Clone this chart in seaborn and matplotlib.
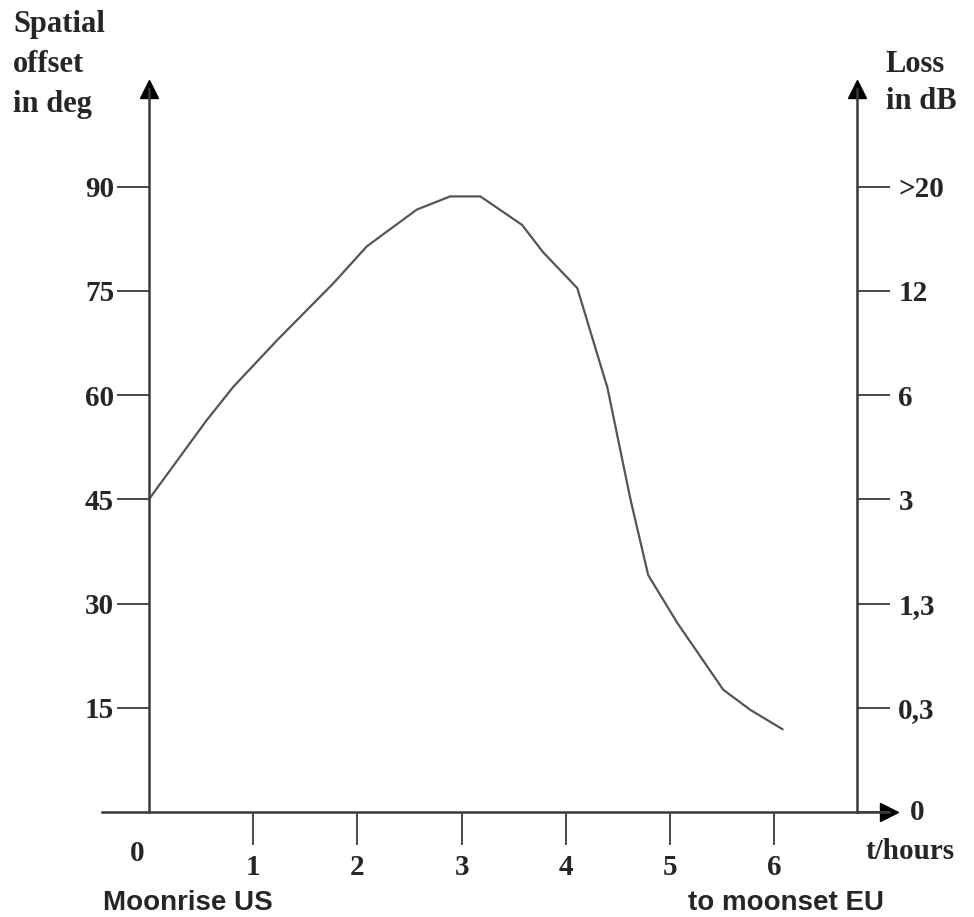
import numpy as np
import pandas as pd
import matplotlib
matplotlib.use("Agg")
import matplotlib.pyplot as plt
import matplotlib.transforms as mtransforms
import seaborn as sns

sns.set_style("white")
plt.rcParams['font.family'] = ['Liberation Serif', 'DejaVu Serif']

# Curve: spatial offset (deg) vs time (hours)
hours = [0, 0.55, 0.81, 1.23, 1.77, 2.09, 2.57, 2.89, 3.18,
         3.58, 3.78, 4.11, 4.40, 4.62, 4.79, 5.07, 5.51, 5.77, 6.08]
offset = [45, 56.3, 61.2, 67.9, 76.1, 81.4, 86.7, 88.6, 88.6,
          84.5, 80.6, 75.4, 61.0, 45.0, 34.1, 27.2, 17.6, 14.7, 11.9]

# Axis ticks
hour_ticks = [0, 1, 2, 3, 4, 5, 6]
deg_ticks = [15, 30, 45, 60, 75, 90]
loss_ticks = [0, 15, 30, 45, 60, 75, 90]
loss_labels = ['0', '0,3', '1,3', '3', '6', '12', '>20']
right_axis_at = 6.79

df = pd.DataFrame({'t': hours, 'deg': offset})

axis_col = '#3a3a3a'
fig = plt.figure(figsize=(9.74, 9.17), dpi=100)
ax = fig.add_axes([0.1047, 0.1145, 0.808, 0.788])

sns.lineplot(data=df, x='t', y='deg', ax=ax, color='#555555', linewidth=1.6)

ax.set_xlim(-0.45, 7.1)
ax.set_ylim(0, 104)

# spines: left at t=0, bottom at 0
ax.spines['top'].set_visible(False)
ax.spines['right'].set_visible(False)
ax.spines['left'].set_position(('data', 0))
for s in ['left', 'bottom']:
    ax.spines[s].set_color(axis_col)
    ax.spines[s].set_linewidth(1.8)

# right axis (loss in dB)
ax2 = ax.twinx()
ax2.set_ylim(ax.get_ylim())
ax2.spines['right'].set_position(('data', right_axis_at))
ax2.spines['right'].set_color(axis_col)
ax2.spines['right'].set_linewidth(1.8)
for s in ['top', 'left', 'bottom']:
    ax2.spines[s].set_visible(False)
ax2.set_yticks(loss_ticks)
ax2.set_yticklabels(loss_labels, fontsize=21, fontweight='bold')
ax2.tick_params(axis='y', direction='out', length=24, width=1.3, color=axis_col, pad=6)

ax.set_xticks(hour_ticks)
ax.set_xticklabels([str(h) for h in hour_ticks], fontsize=21, fontweight='bold')
ax.set_yticks(deg_ticks)
ax.set_yticklabels([str(d) for d in deg_ticks], fontsize=21, fontweight='bold')
ax.tick_params(axis='x', bottom=True, direction='out', length=24, width=1.3, color=axis_col, pad=6)
ax.tick_params(axis='y', left=True, direction='out', length=23, width=1.3, color=axis_col, pad=2)
ax.xaxis.get_major_ticks()[0].tick1line.set_visible(False)
ax.set_xlabel('')
ax.set_ylabel('')

# the "0" under the origin sits a bit higher and to the left; right "0" clears the arrow
lab0 = ax.get_xticklabels()[0]
lab0.set_transform(lab0.get_transform() + mtransforms.ScaledTranslation(-12 / 100, 14 / 100, fig.dpi_scale_trans))
rlab0 = ax2.get_yticklabels()[0]
rlab0.set_transform(rlab0.get_transform() + mtransforms.ScaledTranslation(12 / 100, 3 / 100, fig.dpi_scale_trans))

# arrow heads
ax.plot(0, 1, '^', color='black', ms=13, transform=ax.get_xaxis_transform(), clip_on=False)
ax.plot(right_axis_at, 1, '^', color='black', ms=13, transform=ax.get_xaxis_transform(), clip_on=False)
ax.plot(1, 0, '>', color='black', ms=13, transform=ax.get_yaxis_transform(), clip_on=False)

# axis titles
fig.text(13 / 974, 1 - 10 / 917, 'Spatial\noffset\nin deg', ha='left', va='top',
         fontsize=22, fontweight='bold', linespacing=1.5)
fig.text(886 / 974, 1 - 50 / 917, 'Loss\nin dB', ha='left', va='top',
         fontsize=22, fontweight='bold', linespacing=1.35)
fig.text(865 / 974, 1 - 838 / 917, 't/hours', ha='left', va='top',
         fontsize=21, fontweight='bold')

# captions under the axis
fig.text(103 / 974, 1 - 910 / 917, 'Moonrise US', ha='left', va='baseline',
         fontsize=20, fontweight='bold', family=['Liberation Sans', 'DejaVu Sans'])
fig.text(688 / 974, 1 - 910 / 917, 'to moonset EU', ha='left', va='baseline',
         fontsize=20, fontweight='bold', family=['Liberation Sans', 'DejaVu Sans'])

fig.savefig('out.png', dpi=100, facecolor='white')
